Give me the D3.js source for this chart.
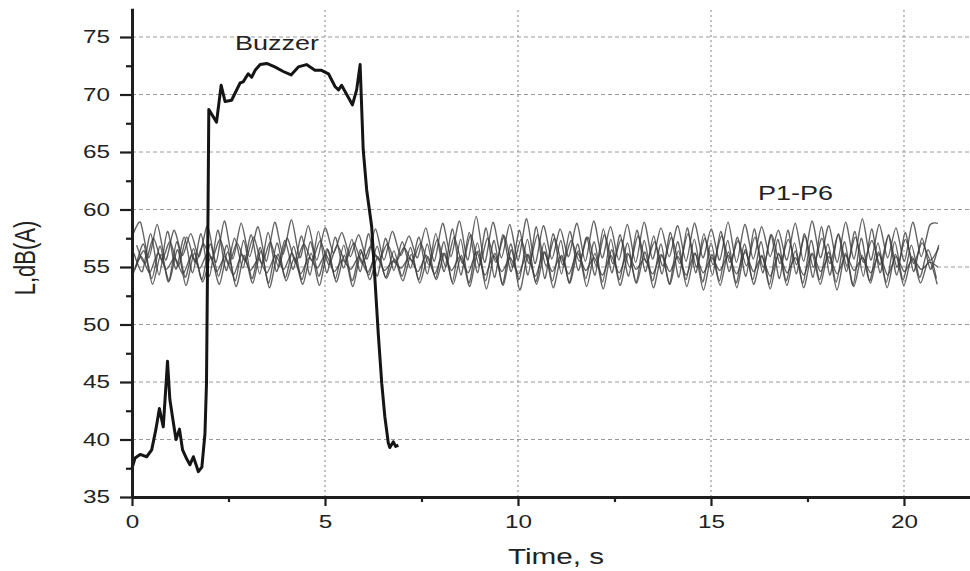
<!DOCTYPE html>
<html>
<head>
<meta charset="utf-8">
<script src="https://cdn.jsdelivr.net/npm/d3@7"></script>
<style>
  html, body { margin: 0; padding: 0; background: #fff; }
  svg { display: block; }
  text { font-family: "Liberation Sans", Arial, Helvetica, sans-serif; fill: #222; }
</style>
</head>
<body>
<svg id="chart" width="970" height="571"></svg>
<script>
// ---------- DATA ----------
const xMajorTicks = [0, 5, 10, 15, 20];
const xMinorTicks = [2.5, 7.5, 12.5, 17.5];
const yMajorTicks = [35, 40, 45, 50, 55, 60, 65, 70, 75];
const yMinorTicks = [37.5, 42.5, 47.5, 52.5, 57.5, 62.5, 67.5, 72.5];

const xTitle = "Time, s";
const yTitle = "L,dB(A)";
const buzzerLabel = "Buzzer";
const pLabel = "P1-P6";

// Buzzer curve (time s, level dB(A))
const buzzT = [0.00,0.08,0.21,0.38,0.51,0.62,0.71,0.74,0.81,0.92,0.98,1.07,1.14,1.23,1.31,1.42,1.50,1.59,1.66,1.72,1.81,1.89,1.93,1.97,1.99,2.19,2.31,2.41,2.58,2.80,2.88,3.01,3.10,3.19,3.32,3.49,3.70,3.92,4.12,4.31,4.52,4.74,4.91,5.09,5.26,5.35,5.43,5.71,5.82,5.91,5.99,6.08,6.21,6.30,6.38,6.47,6.55,6.64,6.68,6.77,6.83,6.90];
const buzzL = [37.5,38.4,38.7,38.5,39.1,40.9,42.7,42.2,41.1,46.8,43.5,41.5,40.0,40.9,39.1,38.3,37.8,38.5,37.8,37.2,37.6,40.5,44.9,60.0,68.7,67.6,70.8,69.4,69.5,71.0,71.1,71.8,71.5,72.1,72.6,72.7,72.4,72.0,71.7,72.4,72.6,72.1,72.1,71.8,70.7,70.4,70.8,69.1,70.4,72.6,65.2,61.7,58.5,53.6,49.2,44.9,42.0,39.7,39.3,39.8,39.4,39.5];

// P1-P6: sampling start / end times (s) and levels
const pStart = [0.00, 0.05, 0.10, 0.02, 0.08, 0.12];
const pEnd   = [20.88, 20.90, 20.86, 20.88, 20.84, 20.90];

const p1 = [57.6,58.9,55.8,58.7,55.6,58.2,56.0,57.9,55.9,58.6,
 55.4,59.0,55.7,58.8,55.9,58.5,55.5,58.9,56.1,59.1,
 55.8,58.6,55.6,58.4,56.2,58.0,55.9,57.8,55.7,58.3,
 55.6,58.1,56.0,57.7,55.8,58.4,55.5,58.8,55.9,59.0,
 55.6,59.4,55.4,58.9,55.8,58.7,55.6,59.2,55.3,58.6,
 55.7,58.3,55.9,58.8,55.5,59.0,55.8,58.5,55.6,58.7,
 55.4,58.9,55.7,58.4,55.9,58.6,55.5,58.8,55.8,58.3,
 55.6,58.9,55.4,58.7,55.7,58.5,55.9,58.2,55.6,58.8,
 55.5,59.0,55.8,58.6,55.4,58.9,55.7,59.2,55.6,58.7,
 55.8,58.4,55.5,58.9,55.9,58.6,58.8];
const p2 = [56.2,54.6,57.9,54.3,58.1,54.8,57.6,54.5,57.9,54.2,
 58.2,54.7,57.5,54.9,57.8,54.4,58.0,54.6,57.3,54.8,
 57.7,54.3,58.1,54.5,57.6,54.9,57.4,54.6,57.9,54.2,
 57.5,54.7,57.2,54.9,57.6,54.4,57.9,54.6,58.3,54.3,
 58.0,54.5,58.4,54.1,57.8,54.6,58.2,54.3,58.5,54.0,
 57.9,54.4,58.1,54.7,57.6,54.3,58.3,54.5,57.8,54.2,
 58.2,54.6,57.7,54.4,58.0,54.1,58.4,54.5,57.9,54.3,
 58.1,54.6,57.6,54.2,58.3,54.5,57.8,54.0,58.2,54.4,
 57.9,54.1,58.5,54.3,57.8,54.6,58.1,54.2,58.3,54.5,
 57.7,54.3,58.0,54.6,57.5,54.8,56.9];
const p3 = [55.0,56.4,53.5,56.1,53.8,56.5,53.4,56.2,53.7,55.9,
 53.5,56.3,53.3,56.0,53.6,56.4,53.2,56.1,53.8,55.8,
 53.5,56.2,53.4,56.5,53.7,56.0,53.3,56.3,53.9,55.9,
 54.0,55.7,53.8,56.1,53.6,55.9,53.9,56.2,53.5,56.0,
 53.3,56.4,53.1,56.2,53.4,56.5,53.0,56.1,53.5,56.3,
 53.2,56.0,53.6,56.4,53.3,56.2,53.1,56.5,53.4,56.1,
 53.6,56.3,53.2,56.0,53.5,56.4,53.3,56.2,53.0,56.1,
 53.4,56.3,53.2,56.5,53.5,56.0,53.1,56.2,53.4,56.4,
 53.2,56.1,53.5,56.3,53.0,56.2,53.3,56.0,53.6,56.3,
 53.2,56.1,53.4,55.9,53.6,55.6,53.5];
const p4 = [54.3,55.9,54.5,56.2,54.8,55.8,54.4,56.0,54.9,56.3,
 54.6,55.9,54.3,56.1,54.7,55.7,54.5,56.0,54.8,56.2,
 54.4,55.8,54.9,56.1,54.6,55.6,54.8,55.9,54.5,56.0,
 54.7,55.5,54.9,55.8,54.6,56.0,54.4,56.2,54.7,55.9,
 54.5,56.3,54.3,56.0,54.6,55.8,54.4,56.1,54.2,56.3,
 54.6,55.9,54.4,56.2,54.7,55.8,54.3,56.0,54.5,56.2,
 54.8,55.7,54.4,56.1,54.6,55.9,54.3,56.2,54.5,55.8,
 54.7,56.0,54.4,56.3,54.6,55.9,54.2,56.1,54.5,55.8,
 54.3,56.2,54.6,55.9,54.4,56.0,54.7,55.8,54.5,56.1,
 54.3,55.9,54.6,55.7,54.8,55.4,55.0];
const p5 = [54.8,57.0,54.0,56.8,53.7,57.2,54.1,56.6,53.9,57.0,
 54.2,56.9,53.8,57.3,54.0,56.7,53.6,57.1,54.1,56.8,
 53.9,57.2,54.2,56.6,54.0,56.9,53.8,56.5,54.3,56.8,
 54.1,56.4,54.2,56.7,53.9,57.0,54.0,57.2,53.7,57.4,
 53.6,57.1,53.8,57.3,53.5,57.0,53.9,57.4,53.7,57.1,
 53.8,57.3,53.6,57.0,54.0,57.2,53.7,57.4,53.9,57.1,
 53.6,57.3,53.8,57.0,53.5,57.2,53.9,57.4,53.7,57.1,
 53.8,57.3,53.6,57.0,53.9,57.2,53.5,57.4,53.8,57.1,
 53.6,57.3,53.9,57.0,53.7,57.2,53.4,57.5,53.8,57.1,
 53.7,57.2,53.9,56.9,54.1,56.5,54.0];
const p6 = [56.9,55.3,57.5,55.6,57.2,55.1,57.6,55.4,57.0,55.7,
 57.4,55.2,57.1,55.5,57.6,55.3,57.2,55.0,57.5,55.4,
 57.0,55.6,57.3,55.2,56.9,55.5,57.1,55.3,56.8,55.6,
 57.0,55.4,56.7,55.5,57.1,55.2,57.4,55.0,57.6,55.3,
 57.8,55.1,57.5,55.4,57.7,55.0,57.4,55.3,57.8,55.1,
 57.5,55.2,57.3,55.5,57.6,55.1,57.8,55.3,57.4,55.0,
 57.7,55.4,57.2,55.1,57.6,55.3,57.9,55.0,57.5,55.2,
 57.7,55.4,57.3,55.1,57.6,55.0,57.8,55.3,57.4,55.2,
 57.7,55.0,57.5,55.3,57.9,55.1,57.6,55.4,57.3,55.2,
 57.8,55.0,57.4,55.3,57.1,55.6,56.7];
const pSeries = [p1, p2, p3, p4, p5, p6];

// ---------- CHART ----------
const SX = 1.35; // horizontal text stretch of the original picture
const svg = d3.select("#chart");

const x = d3.scaleLinear().domain([0, 21.7]).range([132, 969.6]);
const y = d3.scaleLinear().domain([35, 77.5]).range([497, 8.25]);

// grid
const grid = svg.append("g");
grid.selectAll("line.h").data(yMajorTicks.filter(v => v > 35)).join("line")
  .attr("x1", x(0)).attr("x2", x.range()[1])
  .attr("y1", d => y(d)).attr("y2", d => y(d))
  .attr("stroke", "#9a9a9a").attr("stroke-width", 1).attr("stroke-dasharray", "4,3");
grid.selectAll("line.v").data(xMajorTicks.filter(v => v > 0)).join("line")
  .attr("x1", d => x(d)).attr("x2", d => x(d))
  .attr("y1", y(35)).attr("y2", y.range()[1])
  .attr("stroke", "#a5a5a5").attr("stroke-width", 1.4).attr("stroke-dasharray", "2,3");

// P1-P6 lines
const pLine = d3.line().curve(d3.curveCardinal.tension(0.25))
  .x(d => x(d[0])).y(d => y(d[1]));
pSeries.forEach((vals, i) => {
  const step = (pEnd[i] - pStart[i]) / (vals.length - 1);
  const pts = vals.map((v, k) => [pStart[i] + k * step, v]);
  svg.append("path").datum(pts)
    .attr("d", pLine)
    .style("fill", "none")
    .style("stroke", "#3c3c3c")
    .style("stroke-opacity", 0.8)
    .style("stroke-width", "1.4px");
});

// Buzzer line
const bLine = d3.line().x(d => x(d[0])).y(d => y(d[1]));
svg.append("path").datum(buzzT.map((t, i) => [t, buzzL[i]]))
  .attr("d", bLine)
  .style("fill", "none")
  .style("stroke", "#151515")
  .style("stroke-width", "3px")
  .style("stroke-linejoin", "round");

// axes
function stretchTexts(sel) {
  sel.selectAll("text").each(function () {
    const t = d3.select(this);
    const xv = +t.attr("x") || 0;
    t.attr("x", xv / SX).attr("transform", `scale(${SX},1)`);
  });
}

const yAxis = svg.append("g").attr("transform", `translate(${x(0)},0)`)
  .call(d3.axisLeft(y).tickValues(yMajorTicks).tickSize(12).tickSizeOuter(0).tickPadding(10));
const yMinor = svg.append("g").attr("transform", `translate(${x(0)},0)`)
  .call(d3.axisLeft(y).tickValues(yMinorTicks).tickSize(6).tickFormat(""));
yMinor.select(".domain").remove();

const xAxis = svg.append("g").attr("transform", `translate(0,${y(35)})`)
  .call(d3.axisBottom(x).tickValues(xMajorTicks).tickSize(9).tickSizeOuter(0).tickPadding(9));
const xMinor = svg.append("g").attr("transform", `translate(0,${y(35)})`)
  .call(d3.axisBottom(x).tickValues(xMinorTicks).tickSize(5).tickFormat(""));
xMinor.select(".domain").remove();

[yAxis, xAxis].forEach(a => {
  a.select(".domain").style("stroke", "#1e1e1e").style("stroke-width", "3px");
  a.selectAll(".tick line").style("stroke", "#1e1e1e").style("stroke-width", "2.2px");
  a.selectAll(".tick text").attr("font-size", 18).style("fill", "#222")
    .attr("font-family", '"Liberation Sans", Arial, sans-serif');
  stretchTexts(a);
});
[yMinor, xMinor].forEach(a => {
  a.selectAll(".tick line").style("stroke", "#1e1e1e").style("stroke-width", "2.2px");
});

// titles & labels
svg.append("text").text(xTitle)
  .attr("text-anchor", "middle").attr("font-size", 22)
  .attr("transform", `translate(556,564) scale(${SX},1)`);
svg.append("text").text(yTitle)
  .attr("text-anchor", "middle").attr("font-size", 22)
  .attr("transform", `translate(35,258) scale(${SX},1) rotate(-90)`);
svg.append("text").text(buzzerLabel)
  .attr("text-anchor", "start").attr("font-size", 20)
  .attr("transform", `translate(235,50) scale(${SX},1)`);
svg.append("text").text(pLabel)
  .attr("text-anchor", "start").attr("font-size", 20)
  .attr("transform", `translate(758,200) scale(${SX},1)`);
</script>
</body>
</html>
